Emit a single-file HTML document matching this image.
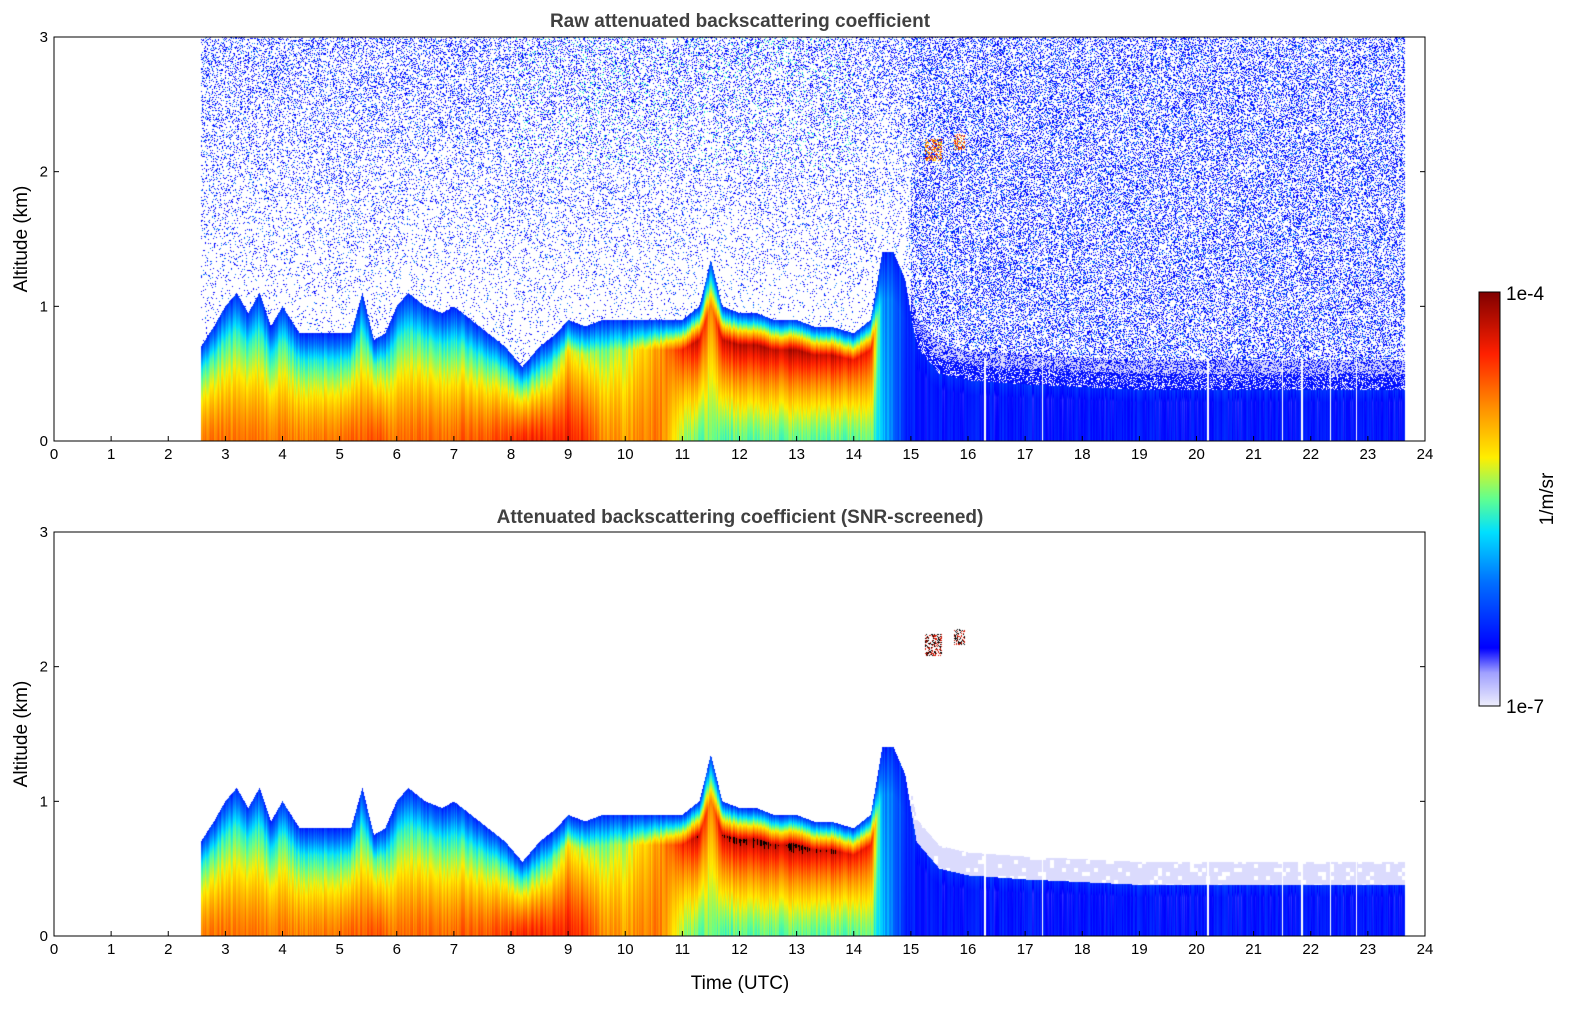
<!DOCTYPE html>
<html><head><meta charset="utf-8"><style>
body{margin:0;background:#fff;width:1595px;height:1020px;overflow:hidden;font-family:"Liberation Sans",sans-serif}
canvas{position:absolute}
svg{position:absolute;left:0;top:0}
</style></head><body>
<canvas id="c1" width="1371" height="404" style="left:54px;top:37px"></canvas>
<canvas id="c2" width="1371" height="404" style="left:54px;top:532px"></canvas>
<svg id="ov" width="1595" height="1020">
<defs><linearGradient id="cbg" x1="0" y1="1" x2="0" y2="0">
<stop offset="0" stop-color="#eeeefc"/><stop offset="0.08" stop-color="#a0a0ff"/><stop offset="0.14" stop-color="#0000ff"/><stop offset="0.3" stop-color="#0070ff"/><stop offset="0.42" stop-color="#00e0ff"/><stop offset="0.5" stop-color="#60ff90"/><stop offset="0.6" stop-color="#ffee00"/><stop offset="0.72" stop-color="#ff9000"/><stop offset="0.85" stop-color="#ff2000"/><stop offset="1" stop-color="#800000"/></linearGradient></defs>
<text x="740" y="27" text-anchor="middle" font-size="19" font-weight="bold" fill="#404040">Raw attenuated backscattering coefficient</text>
<text x="740" y="523" text-anchor="middle" font-size="19" font-weight="bold" fill="#404040">Attenuated backscattering coefficient (SNR-screened)</text>
<text transform="translate(27,239) rotate(-90)" text-anchor="middle" font-size="19">Altitude (km)</text>
<text transform="translate(27,734) rotate(-90)" text-anchor="middle" font-size="19">Altitude (km)</text>
<text x="740" y="989" text-anchor="middle" font-size="19">Time (UTC)</text>
<rect x="1479" y="292" width="21" height="414" fill="url(#cbg)" stroke="#000" stroke-width="1"/>
<text x="1506" y="300" font-size="19">1e-4</text>
<text x="1506" y="713" font-size="19">1e-7</text>
<text transform="translate(1553,499) rotate(-90)" text-anchor="middle" font-size="19">1/m/sr</text>
<g id="axes"></g>
</svg>
<script>
// ---- data (hours UTC, km, colour-index 0..1) ----
const times   = [2.57,2.8,3.0,3.2,3.4,3.6,3.8,4.0,4.3,4.6,5.0,5.2,5.4,5.6,5.8,6.0,6.2,6.5,6.8,7.0,7.3,7.6,7.9,8.2,8.5,8.8,9.0,9.3,9.6,10.0,10.3,10.6,11.0,11.3,11.5,11.7,12.0,12.3,12.6,13.0,13.3,13.6,14.0,14.3,14.5,14.7,14.9,15.1,15.5,16,17,18,19,20,21,22,23,23.65];
const blTop   = [0.7,0.85,1.0,1.1,0.95,1.1,0.85,1.0,0.8,0.8,0.8,0.8,1.1,0.75,0.8,1.0,1.1,1.0,0.95,1.0,0.9,0.8,0.7,0.55,0.7,0.8,0.9,0.85,0.9,0.9,0.9,0.9,0.9,1.0,1.35,1.0,0.95,0.95,0.9,0.9,0.85,0.85,0.8,0.9,1.4,1.4,1.2,0.7,0.5,0.45,0.42,0.4,0.38,0.38,0.38,0.38,0.38,0.38];
const groundVal=[0.74,0.75,0.75,0.75,0.75,0.75,0.75,0.74,0.74,0.75,0.76,0.77,0.77,0.8,0.76,0.75,0.76,0.76,0.76,0.77,0.78,0.78,0.8,0.84,0.84,0.84,0.86,0.82,0.72,0.7,0.72,0.74,0.55,0.5,0.5,0.48,0.5,0.5,0.5,0.5,0.5,0.5,0.5,0.5,0.4,0.3,0.2,0.17,0.17,0.17,0.17,0.17,0.17,0.17,0.17,0.17,0.17,0.17];
const layerVal=[0.45,0.45,0.45,0.45,0.45,0.45,0.45,0.45,0.45,0.45,0.45,0.45,0.45,0.5,0.45,0.45,0.45,0.45,0.45,0.45,0.45,0.45,0.45,0.45,0.45,0.5,0.6,0.55,0.5,0.55,0.62,0.7,0.85,0.92,0.7,0.92,0.93,0.95,0.92,0.95,0.92,0.92,0.88,0.85,0.35,0.3,0.22,0.17,0.16,0.16,0.16,0.16,0.16,0.16,0.16,0.16,0.16,0.16];
const gapTimes=[16.3,17.3,20.2,21.5,21.85,22.35,22.8];
const cloudT0=[15.25,15.75], cloudT1=[15.55,15.95], cloudZ0=[2.08,2.16], cloudZ1=[2.24,2.28];
const xTicks=[0,1,2,3,4,5,6,7,8,9,10,11,12,13,14,15,16,17,18,19,20,21,22,23,24];
const yTicks=[0,1,2,3];

const W=1371,H=404,X0=54,PX=W/24,PY=H/3;
const stops=[[0,[238,238,252]],[0.08,[160,160,255]],[0.14,[0,0,255]],[0.3,[0,112,255]],[0.42,[0,224,255]],[0.5,[96,255,144]],[0.6,[255,238,0]],[0.72,[255,144,0]],[0.85,[255,32,0]],[1,[128,0,0]]];
function cmap(v){v=Math.max(0,Math.min(1,v));for(let i=1;i<stops.length;i++){if(v<=stops[i][0]){const a=stops[i-1],b=stops[i],f=(v-a[0])/(b[0]-a[0]);return a[1].map((c,k)=>Math.round(c+(b[1][k]-c)*f));}}return stops[stops.length-1][1];}
function interp(arr,t){if(t<=times[0])return arr[0];for(let i=1;i<times.length;i++){if(t<=times[i]){const f=(t-times[i-1])/(times[i]-times[i-1]);return arr[i-1]+(arr[i]-arr[i-1])*f;}}return arr[arr.length-1];}
function hash(a,b){let h=(a*374761393+b*668265263)|0;h=(h^(h>>>13))*1274126177|0;return ((h^(h>>>16))>>>0)/4294967296;}
function draw(id,raw){
  const ctx=document.getElementById(id).getContext('2d');const img=ctx.createImageData(W,H);const d=img.data;
  for(let x=0;x<W;x++){
    const t=(x+0.5)/PX; if(t<2.57||t>23.65)continue;
    const gap=gapTimes.some(g=>Math.abs(g-t)<0.012);
    const top=interp(blTop,t),g=interp(groundVal,t),l=interp(layerVal,t);
    const jit=(hash(x,7)-0.5)*0.08;
    for(let y=0;y<H;y++){
      const z=(H-y-0.5)/PY; let v=null,black=false;
      if(gap&&z<0.62)continue;
      if(z<top){ if(z<top*0.75){const f=Math.pow(z/(top*0.75),1.4); v=g+(l-g)*f;} else v=l+(0.2-l)*((z-top*0.75)/(top*0.25)); v+=jit; if(!raw&&v>0.93)black=true;}
      else if(t>15&&z<top+0.22){ if(raw){v=hash(x,y)<(z<top+0.12?0.7:0.4)?0.16:(z>top+0.1?0.02:null);} else {v=(z<top+0.17&&hash(x>>2,y>>2)<0.85)?0.02:null;}}
      for(let k=0;k<2;k++){if(t>=cloudT0[k]&&t<=cloudT1[k]&&z>=cloudZ0[k]&&z<=cloudZ1[k]&&hash(x,y*3)<0.5){v=raw?0.6+hash(x,y)*0.35:0.9;if(!raw&&hash(y,x)<0.5)black=true;}}
      if(v===null&&raw){const p=t>15?0.33:0.05+0.22*Math.max(0,(z-top)/(3-top));const r=hash(x,y);if(r<p)v=(r<p*0.2&&t>8&&t<14&&z>2)?0.45:(r<p*0.25?0.3:0.15);}
      if(v===null)continue;
      const c=black?[0,0,0]:cmap(v);const o=(y*W+x)*4;d[o]=c[0];d[o+1]=c[1];d[o+2]=c[2];d[o+3]=255;
    }
  }
  ctx.putImageData(img,0,0);
}
draw('c1',true);draw('c2',false);
const ax=document.getElementById('axes');const NS='http://www.w3.org/2000/svg';
function mk(tag,attrs,txt){const e=document.createElementNS(NS,tag);for(const k in attrs)e.setAttribute(k,attrs[k]);if(txt!==undefined)e.textContent=txt;ax.appendChild(e);return e;}
[37,532].forEach((Y0,pi)=>{
  const f=mk('rect',{x:X0,y:Y0,width:W,height:H,fill:'none',stroke:'#000','stroke-width':1});
  
  
  xTicks.forEach(v=>{const x=X0+v*PX;
    const tk=mk('line',{x1:x,x2:x,y1:Y0+H,y2:Y0+H-5,stroke:'#000'});
    
    
    const lb=mk('text',{x:x,y:Y0+H+18,'text-anchor':'middle','font-size':15},String(v));
    
    });
  yTicks.forEach(v=>{const y=Y0+H-v*PY;
    const tk=mk('line',{x1:X0,x2:X0+5,y1:y,y2:y,stroke:'#000'});
    
    
    const tr=mk('line',{x1:X0+W,x2:X0+W-5,y1:y,y2:y,stroke:'#000'});
    
    
    const lb=mk('text',{x:X0-6,y:y+5,'text-anchor':'end','font-size':15},String(v));
    
    });
});
</script>
</body></html>
